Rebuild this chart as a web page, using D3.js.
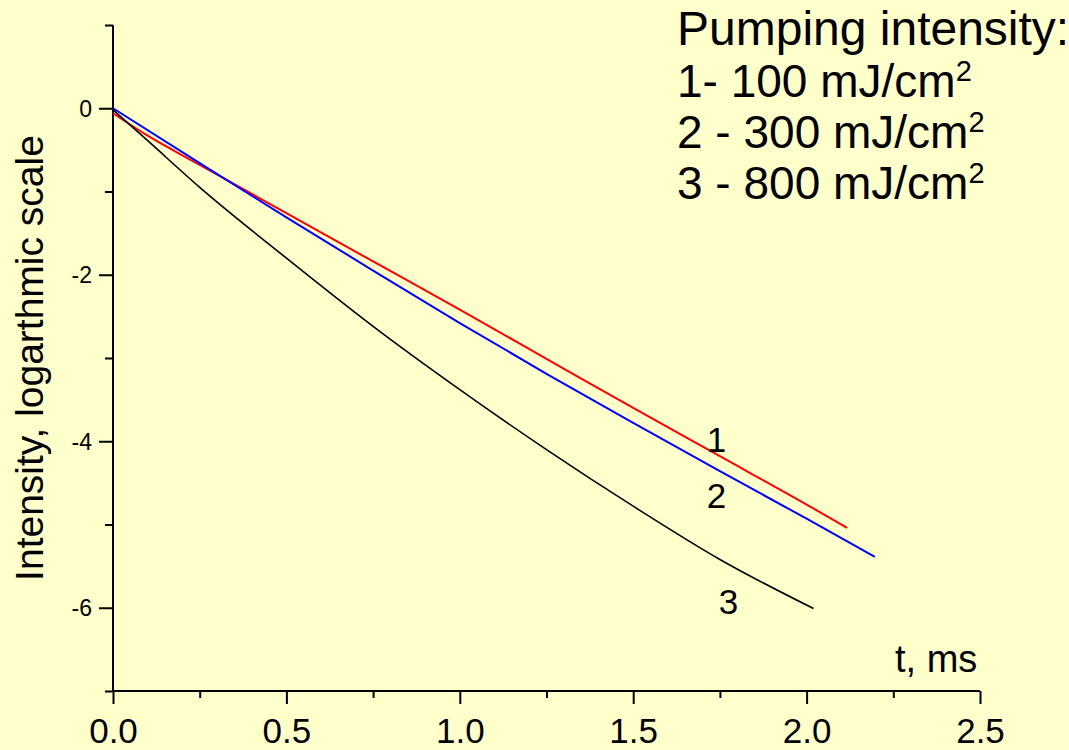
<!DOCTYPE html>
<html>
<head>
<meta charset="utf-8">
<script src="https://cdn.jsdelivr.net/npm/d3@7"></script>
<style>
	body { margin: 0; background: #ffffcc; }
	text { font-family: "Liberation Sans", Arial, sans-serif; fill: #000; }
</style>
</head>
<body>
<div id="chart"></div>
<script>
// time points (ms) and log intensity
var t1 = [0, 0.1, 0.25, 0.5, 0.75, 1.0, 1.25, 1.5, 1.75, 2.0, 2.117];
var curve1 = [-0.06, -0.33, -0.68, -1.26, -1.84, -2.42, -3.01, -3.6, -4.18, -4.76, -5.04];
var t2 = [0, 0.25, 0.5, 0.75, 1.0, 1.25, 1.5, 1.75, 2.0, 2.197];
var curve2 = [0, -0.66, -1.31, -1.95, -2.58, -3.19, -3.78, -4.36, -4.93, -5.39];
var t3 = [0, 0.1, 0.25, 0.5, 0.75, 1.0, 1.25, 1.5, 1.75, 2.02];
var curve3 = [-0.02, -0.39, -0.95, -1.80, -2.62, -3.38, -4.10, -4.78, -5.42, -6.01];

var xMajor = [0, 0.5, 1.0, 1.5, 2.0, 2.5];
var xMinor = [0.25, 0.75, 1.25, 1.75, 2.25];
var yMajor = [0, -2, -4, -6];
var yMinor = [1, -1, -3, -5, -7];

var legendLines = ["1- 100 mJ/cm", "2 - 300 mJ/cm", "3 - 800 mJ/cm"];
var curveLabels = ["1", "2", "3"];

var width = 1069;
var height = 750;

var svg = d3.select("#chart")
	.append("svg")
	.attr("width", width)
	.attr("height", height);

var x = d3.scaleLinear().domain([0, 2.5]).range([113, 980]);
var y = d3.scaleLinear().domain([-7, 1]).range([691, 25]);

/************************************** Axes ********************************************************/

var xAxis = svg.append("g").attr("transform", "translate(0," + y(-7) + ")");
xAxis.call(d3.axisBottom(x).tickValues(xMinor).tickSize(7).tickFormat(""));
xAxis.append("g").call(d3.axisBottom(x).tickValues(xMajor).tickSize(13).tickPadding(14)
	.tickFormat(d3.format(".1f")));
xAxis.selectAll(".domain").attr("d", "M" + x(0) + ",0H" + x(2.5));
xAxis.selectAll("path, line").attr("stroke", "#000").attr("stroke-width", 2);
xAxis.selectAll("text").attr("font-size", 35).attr("font-family", null).attr("dy", null)
	.attr("y", 52);

var yAxis = svg.append("g").attr("transform", "translate(" + x(0) + ",0)");
yAxis.call(d3.axisLeft(y).tickValues(yMinor).tickSize(8).tickFormat(""));
yAxis.append("g").call(d3.axisLeft(y).tickValues(yMajor).tickSize(14).tickPadding(7)
	.tickFormat(function(d) { return d; }));
yAxis.selectAll(".domain").attr("d", "M0," + y(1) + "V" + y(-7));
yAxis.selectAll("path, line").attr("stroke", "#000").attr("stroke-width", 2);
yAxis.selectAll("text").attr("font-size", 23).attr("font-family", null).attr("dy", "0.35em");

svg.append("text")
	.attr("transform", "translate(43," + 358 + ") rotate(-90)")
	.attr("text-anchor", "middle")
	.attr("font-size", 39)
	.text("Intensity, logarthmic scale");

svg.append("text")
	.attr("x", 895)
	.attr("y", 672)
	.attr("font-size", 38)
	.text("t, ms");

/************************************** Curves ********************************************************/

var series = [
	{ t: t1, v: curve1, color: "#ff0000", width: 2 },
	{ t: t2, v: curve2, color: "#0000ff", width: 2 },
	{ t: t3, v: curve3, color: "#000000", width: 1.6 }
];

var line = d3.line()
	.x(function(d) { return x(d[0]); })
	.y(function(d) { return y(d[1]); })
	.curve(d3.curveMonotoneX);

svg.selectAll(".curve")
	.data(series)
	.enter().append("path")
	.attr("class", "curve")
	.attr("fill", "none")
	.attr("stroke", function(d) { return d.color; })
	.attr("stroke-width", function(d) { return d.width; })
	.attr("d", function(d) { return line(d3.zip(d.t, d.v)); });

// curve numbers, placed in data units
var labelPos = [[1.74, -4.13], [1.74, -4.8], [1.775, -6.08]];
svg.selectAll(".clabel")
	.data(curveLabels)
	.enter().append("text")
	.attr("class", "clabel")
	.attr("x", function(d, i) { return x(labelPos[i][0]); })
	.attr("y", function(d, i) { return y(labelPos[i][1]); })
	.attr("text-anchor", "middle")
	.attr("font-size", 35)
	.text(function(d) { return d; });

/************************************** Legend ********************************************************/

var legend = svg.append("g");
legend.append("text")
	.attr("x", 677)
	.attr("y", 45)
	.attr("font-size", 48)
	.text("Pumping intensity:");

var rows = legend.selectAll(".row")
	.data(legendLines)
	.enter().append("text")
	.attr("class", "row")
	.attr("font-size", 46)
	.attr("x", 677)
	.attr("y", function(d, i) { return 97 + i * 51; });
rows.append("tspan").text(function(d) { return d; });
rows.append("tspan").attr("font-size", 29).attr("dy", -16).text("2");
</script>
</body>
</html>
